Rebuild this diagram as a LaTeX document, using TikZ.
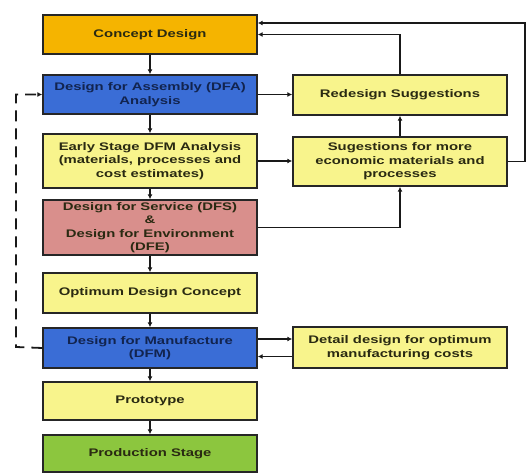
\documentclass[tikz,border=0pt]{standalone}
\usepackage{fontspec}
\setmainfont[FakeStretch=1.35]{Liberation Sans}
\usetikzlibrary{arrows.meta}
\definecolor{corange}{HTML}{F5B400}
\definecolor{cblue}{HTML}{3A6DD6}
\definecolor{cyellow}{HTML}{F8F48C}
\definecolor{cpink}{HTML}{D98F8C}
\definecolor{cgreen}{HTML}{8CC63E}
\definecolor{ctext}{HTML}{2A2A12}
\definecolor{cnavy}{HTML}{12244F}
\tikzset{
  box/.style={draw=black!85, line width=1.4pt, minimum width=214pt, align=center,
    font=\fontsize{11}{13.5}\selectfont\bfseries, text=ctext, inner sep=1pt},
  conn/.style={line width=1.2pt, draw=black!90, -{Latex[length=5pt,width=5pt]}},
}
\begin{document}
\begin{tikzpicture}[x=1pt,y=-1pt]
\useasboundingbox (0,0) rectangle (531,473);
% left column
\node[box, fill=corange, minimum height=39pt] (concept) at (150,34.5) {Concept Design};
\node[box, fill=cblue, text=cnavy, minimum height=39pt] (dfa) at (150,94.5) {Design for Assembly (DFA)\\Analysis};
\node[box, fill=cyellow, minimum height=54pt] (early) at (150,161) {Early Stage DFM Analysis\\(materials, processes and\\cost estimates)};
\node[box, fill=cpink, minimum height=55pt] (dfs) at (150,227.5) {Design for Service (DFS)\\\&\\Design for Environment\\(DFE)};
\node[box, fill=cyellow, minimum height=40pt] (opt) at (150,293) {Optimum Design Concept};
\node[box, fill=cblue, text=cnavy, minimum height=40pt] (dfm) at (150,348) {Design for Manufacture\\(DFM)};
\node[box, fill=cyellow, minimum height=38pt] (proto) at (150,401) {Prototype};
\node[box, fill=cgreen, minimum height=37pt] (prod) at (150,453.5) {Production Stage};
% right column
\node[box, fill=cyellow, minimum height=40pt] (redesign) at (400,95) {Redesign Suggestions};
\node[box, fill=cyellow, minimum height=49pt] (sug) at (400,161.5) {Sugestions for more\\economic materials and\\processes};
\node[box, fill=cyellow, minimum height=41pt] (detail) at (400,347.5) {Detail design for optimum\\manufacturing costs};
% vertical chain
\draw[conn] (concept) -- (dfa);
\draw[conn] (dfa) -- (early);
\draw[conn] (early) -- (dfs);
\draw[conn] (dfs) -- (opt);
\draw[conn] (opt) -- (dfm);
\draw[conn] (dfm) -- (proto);
\draw[conn] (proto) -- (prod);
% right links
\draw[conn] (dfa.east) -- (redesign.west |- dfa.east);
\draw[conn] (early.east) -- (sug.west |- early.east);
\draw[conn] (sug) -- (redesign);
\draw[conn] (dfs.east) -| (sug.south);
\draw[conn] (redesign.north) |- (concept.east);
\coordinate (outer) at (525,23);
\draw[conn] (sug.east) -| (outer) -- ([yshift=11.5pt]concept.east);
\draw[conn] ([yshift=9pt]dfm.east) -- ([yshift=9pt]dfm.east -| detail.west);
\draw[conn] ([yshift=-9pt]detail.west) -- ([yshift=-9pt]detail.west -| dfm.east);
% dashed feedback
\coordinate (dl) at (16,347);
\draw[conn, line width=1.8pt, dash pattern=on 11pt off 7pt] (dfm.west) -- (dl) |- (dfa.west);
\end{tikzpicture}
\end{document}
